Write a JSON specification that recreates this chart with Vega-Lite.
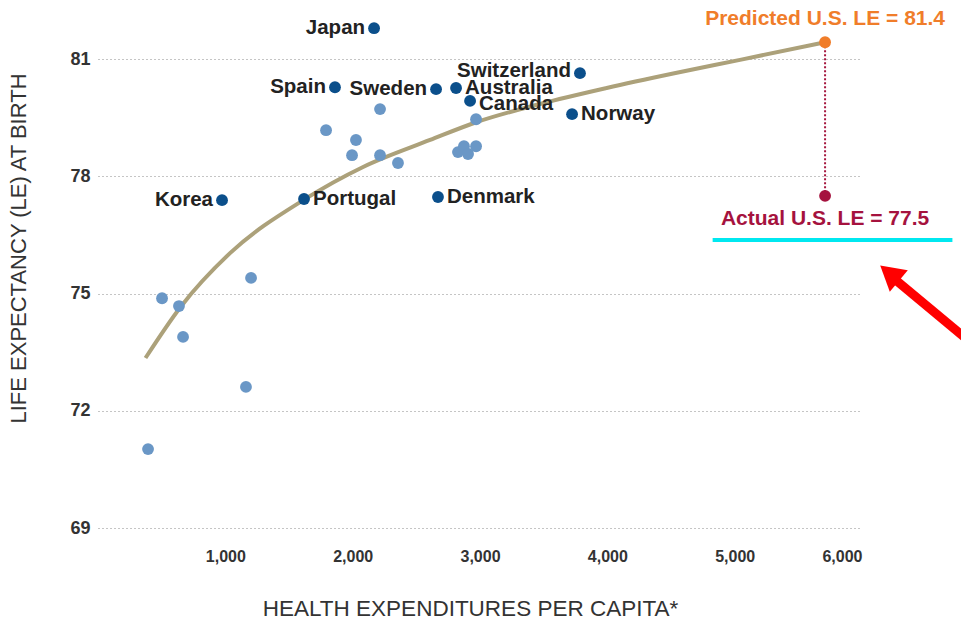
{
  "$schema": "https://vega.github.io/schema/vega-lite/v6.json",
  "width": 764,
  "height": 508,
  "autosize": {"type": "none"},
  "padding": {"left": 98, "top": 20, "right": 99, "bottom": 92},
  "background": "white",
  "config": {
    "view": {"stroke": null},
    "font": "Liberation Sans",
    "text": {"font": "Liberation Sans"}
  },
  "datasets": {
    "countries": [
      {"country": "Japan", "spend": 2168, "le": 81.79, "group": "named"},
      {"country": "Spain", "spend": 1861, "le": 80.28, "group": "named"},
      {"country": "Sweden", "spend": 2655, "le": 80.23, "group": "named"},
      {"country": "Australia", "spend": 2812, "le": 80.26, "group": "named"},
      {"country": "Switzerland", "spend": 3785, "le": 80.64, "group": "named"},
      {"country": "Canada", "spend": 2922, "le": 79.93, "group": "named"},
      {"country": "Norway", "spend": 3723, "le": 79.59, "group": "named"},
      {"country": "Korea", "spend": 974, "le": 77.39, "group": "named"},
      {"country": "Portugal", "spend": 1618, "le": 77.42, "group": "named"},
      {"country": "Denmark", "spend": 2670, "le": 77.47, "group": "named"},
      {"country": "", "spend": 2215, "le": 79.72, "group": "other"},
      {"country": "", "spend": 1791, "le": 79.18, "group": "other"},
      {"country": "", "spend": 2026, "le": 78.93, "group": "other"},
      {"country": "", "spend": 1995, "le": 78.54, "group": "other"},
      {"country": "", "spend": 2215, "le": 78.54, "group": "other"},
      {"country": "", "spend": 2356, "le": 78.34, "group": "other"},
      {"country": "", "spend": 2969, "le": 79.46, "group": "other"},
      {"country": "", "spend": 2827, "le": 78.62, "group": "other"},
      {"country": "", "spend": 2874, "le": 78.77, "group": "other"},
      {"country": "", "spend": 2906, "le": 78.57, "group": "other"},
      {"country": "", "spend": 2969, "le": 78.77, "group": "other"},
      {"country": "", "spend": 1202, "le": 75.40, "group": "other"},
      {"country": "", "spend": 503, "le": 74.88, "group": "other"},
      {"country": "", "spend": 636, "le": 74.68, "group": "other"},
      {"country": "", "spend": 668, "le": 73.89, "group": "other"},
      {"country": "", "spend": 1162, "le": 72.61, "group": "other"},
      {"country": "", "spend": 393, "le": 71.02, "group": "other"}
    ],
    "fit": [
      {"spend": 373, "le": 73.35},
      {"spend": 647, "le": 74.65},
      {"spend": 1039, "le": 76.04},
      {"spend": 1612, "le": 77.39},
      {"spend": 2082, "le": 78.24},
      {"spend": 2608, "le": 78.93},
      {"spend": 2976, "le": 79.39},
      {"spend": 3471, "le": 79.85},
      {"spend": 3995, "le": 80.26},
      {"spend": 4517, "le": 80.63},
      {"spend": 5042, "le": 80.98},
      {"spend": 5710, "le": 81.43}
    ],
    "us": [
      {"spend": 5710, "predicted": 81.43, "actual": 77.5}
    ],
    "cyan": [
      {"x1": 4827, "x2": 6710, "y": 76.37}
    ],
    "arrow": [
      {"x1": 6255, "y1": 75.37, "x2": 6900, "y2": 73.62, "hx": 6216, "hy": 75.52}
    ]
  },
  "layer": [
    {
      "data": {"name": "fit"},
      "mark": {"type": "line", "interpolate": "monotone", "color": "#aca17a", "strokeWidth": 4},
      "encoding": {
        "x": {
          "field": "spend", "type": "quantitative",
          "scale": {"domain": [0, 6000], "nice": false},
          "axis": {
            "values": [1000, 2000, 3000, 4000, 5000, 6000],
            "format": ",.0f",
            "domain": false, "ticks": false, "grid": false,
            "labelFontSize": 16, "labelFontWeight": "bold", "labelColor": "#333333",
            "labelPadding": 20,
            "title": "HEALTH EXPENDITURES PER CAPITA*",
            "titleFontSize": 22.5, "titleFontWeight": "normal", "titleColor": "#333333",
            "titleX": 372, "titleY": 80, "titleAlign": "center", "titleBaseline": "middle"
          }
        },
        "y": {
          "field": "le", "type": "quantitative",
          "scale": {"domain": [69, 82], "nice": false, "zero": false},
          "axis": {
            "values": [69, 72, 75, 78, 81],
            "domain": false, "ticks": false,
            "grid": true, "gridDash": [1, 3], "gridColor": "#8a8a8a", "gridWidth": 1,
            "labelFontSize": 18, "labelFontWeight": "bold", "labelColor": "#333333",
            "labelPadding": 8,
            "title": "LIFE EXPECTANCY (LE) AT BIRTH",
            "titleFontSize": 22, "titleFontWeight": "normal", "titleColor": "#333333",
            "titleX": -80, "titleY": 228, "titleAlign": "center", "titleBaseline": "middle", "titleAngle": -90
          }
        }
      }
    },
    {
      "data": {"name": "us"},
      "mark": {"type": "rule", "color": "#a5173f", "strokeWidth": 2, "strokeDash": [2, 2]},
      "encoding": {
        "x": {"field": "spend", "type": "quantitative"},
        "y": {"field": "predicted", "type": "quantitative"},
        "y2": {"field": "actual"}
      }
    },
    {
      "data": {"name": "countries"},
      "mark": {"type": "point", "filled": true, "opacity": 1, "size": 140, "shape": "circle"},
      "encoding": {
        "x": {"field": "spend", "type": "quantitative"},
        "y": {"field": "le", "type": "quantitative"},
        "color": {
          "field": "group", "type": "nominal",
          "scale": {"domain": ["named", "other"], "range": ["#0b4f8b", "#6a97c6"]},
          "legend": null
        }
      }
    },
    {
      "data": {"name": "countries"},
      "transform": [{"filter": {"field": "country", "oneOf": ["Japan", "Spain", "Sweden", "Korea"]}}],
      "mark": {"type": "text", "align": "right", "baseline": "middle", "dx": -9, "dy": 0, "fontSize": 20.5, "fontWeight": "bold", "color": "#222222"},
      "encoding": {
        "x": {"field": "spend", "type": "quantitative"},
        "y": {"field": "le", "type": "quantitative"},
        "text": {"field": "country"}
      }
    },
    {
      "data": {"name": "countries"},
      "transform": [{"filter": {"field": "country", "oneOf": ["Switzerland"]}}],
      "mark": {"type": "text", "align": "right", "baseline": "middle", "dx": -9, "dy": -2, "fontSize": 20.5, "fontWeight": "bold", "color": "#222222"},
      "encoding": {
        "x": {"field": "spend", "type": "quantitative"},
        "y": {"field": "le", "type": "quantitative"},
        "text": {"field": "country"}
      }
    },
    {
      "data": {"name": "countries"},
      "transform": [{"filter": {"field": "country", "oneOf": ["Australia", "Portugal", "Denmark", "Norway"]}}],
      "mark": {"type": "text", "align": "left", "baseline": "middle", "dx": 9, "dy": 0, "fontSize": 20.5, "fontWeight": "bold", "color": "#222222"},
      "encoding": {
        "x": {"field": "spend", "type": "quantitative"},
        "y": {"field": "le", "type": "quantitative"},
        "text": {"field": "country"}
      }
    },
    {
      "data": {"name": "countries"},
      "transform": [{"filter": {"field": "country", "oneOf": ["Canada"]}}],
      "mark": {"type": "text", "align": "left", "baseline": "middle", "dx": 9, "dy": 3, "fontSize": 20.5, "fontWeight": "bold", "color": "#222222"},
      "encoding": {
        "x": {"field": "spend", "type": "quantitative"},
        "y": {"field": "le", "type": "quantitative"},
        "text": {"field": "country"}
      }
    },
    {
      "data": {"name": "us"},
      "mark": {"type": "point", "filled": true, "opacity": 1, "size": 140, "shape": "circle", "color": "#f07d2a"},
      "encoding": {
        "x": {"field": "spend", "type": "quantitative"},
        "y": {"field": "predicted", "type": "quantitative"}
      }
    },
    {
      "data": {"name": "us"},
      "mark": {"type": "point", "filled": true, "opacity": 1, "size": 140, "shape": "circle", "color": "#a5123e"},
      "encoding": {
        "x": {"field": "spend", "type": "quantitative"},
        "y": {"field": "actual", "type": "quantitative"}
      }
    },
    {
      "data": {"name": "us"},
      "mark": {"type": "text", "align": "center", "baseline": "middle", "dy": -23, "fontSize": 21, "fontWeight": "bold", "color": "#f07d2a"},
      "encoding": {
        "x": {"field": "spend", "type": "quantitative"},
        "y": {"field": "predicted", "type": "quantitative"},
        "text": {"value": "Predicted U.S. LE = 81.4"}
      }
    },
    {
      "data": {"name": "us"},
      "mark": {"type": "text", "align": "center", "baseline": "middle", "dy": 23, "fontSize": 21, "fontWeight": "bold", "color": "#a5123e"},
      "encoding": {
        "x": {"field": "spend", "type": "quantitative"},
        "y": {"field": "actual", "type": "quantitative"},
        "text": {"value": "Actual U.S. LE = 77.5"}
      }
    },
    {
      "data": {"name": "cyan"},
      "mark": {"type": "rule", "color": "#00e8f0", "strokeWidth": 4},
      "encoding": {
        "x": {"field": "x1", "type": "quantitative"},
        "x2": {"field": "x2"},
        "y": {"field": "y", "type": "quantitative"}
      }
    },
    {
      "data": {"name": "arrow"},
      "mark": {"type": "rule", "color": "#ff0000", "strokeWidth": 9},
      "encoding": {
        "x": {"field": "x1", "type": "quantitative"},
        "y": {"field": "y1", "type": "quantitative"},
        "x2": {"field": "x2"},
        "y2": {"field": "y2"}
      }
    },
    {
      "data": {"name": "arrow"},
      "mark": {"type": "point", "shape": "triangle-up", "filled": true, "opacity": 1, "size": 784, "angle": 310, "color": "#ff0000"},
      "encoding": {
        "x": {"field": "hx", "type": "quantitative"},
        "y": {"field": "hy", "type": "quantitative"}
      }
    }
  ]
}
